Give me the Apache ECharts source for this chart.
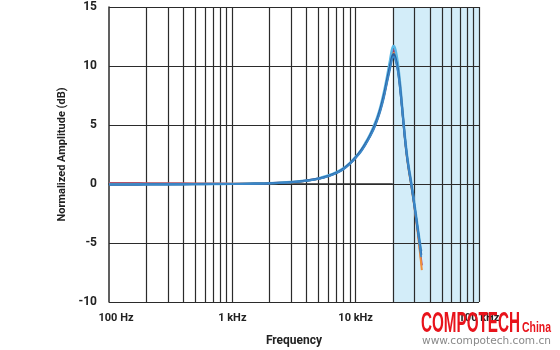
<!DOCTYPE html>
<html>
<head>
<meta charset="utf-8">
<script src="https://cdn.jsdelivr.net/npm/echarts@6/dist/echarts.min.js"></script>
<style>
  html, body { margin: 0; padding: 0; background: #fff; }
  #chart { width: 560px; height: 350px; }
</style>
</head>
<body>
<div id="chart"></div>
<script>
// Frequency points (Hz) shared by all traces
const freq = [100, 150, 200, 300, 500, 700, 1000, 1500, 2000, 3000, 4000, 5000, 6000, 7000, 8000, 9000,
  10000, 11000, 12000, 13000, 14000, 15000, 16000, 17000, 18000, 19000, 19700, 20300, 21000, 22000,
  23000, 24000, 25000, 26000, 27000, 28000, 30000, 32000, 34000, 34400];

// Normalized amplitude (dB) of each measured unit
const unitDark = [-0.05, -0.05, -0.04, -0.03, -0.02, 0, 0, 0.03, 0.06, 0.15, 0.28, 0.45, 0.68, 0.95, 1.3, 1.75,
  2.25, 2.8, 3.4, 4.05, 4.75, 5.55, 6.5, 7.6, 8.85, 10.0, 10.75, 11.0, 10.7, 9.7,
  8.0, 6.0, 4.0, 2.4, 1.2, 0.2, -1.9, -4.0, -6.0, null];
const unitMid = [-0.03, -0.03, -0.02, -0.02, -0.01, 0, 0.01, 0.04, 0.07, 0.17, 0.3, 0.48, 0.72, 1.0, 1.35, 1.8,
  2.3, 2.85, 3.5, 4.15, 4.9, 5.7, 6.7, 7.85, 9.15, 10.5, 11.4, 11.7, 11.4, 10.2,
  8.4, 6.2, 4.2, 2.6, 1.4, 0.4, -1.7, -3.8, -5.7, null];
const unitLight = [-0.04, -0.04, -0.03, -0.02, -0.01, 0, 0, 0.02, 0.05, 0.14, 0.26, 0.43, 0.65, 0.92, 1.25, 1.7,
  2.2, 2.7, 3.3, 3.95, 4.6, 5.4, 6.3, 7.35, 8.6, 9.7, 10.5, 10.8, 10.5, 9.5,
  7.9, 5.9, 4.0, 2.4, 1.2, 0.2, -1.9, -4.0, -6.2, null];
const unitOrange = [0.02, 0.02, 0.02, 0.02, 0.02, 0.02, 0.02, 0.04, 0.06, 0.15, 0.28, 0.45, 0.68, 0.95, 1.3, 1.75,
  2.25, 2.8, 3.4, 4.05, 4.75, 5.5, 6.45, 7.5, 8.75, 10.0, 10.8, 11.1, 10.8, 9.8,
  8.1, 6.0, 4.0, 2.3, 1.1, 0.1, -2.0, -4.3, -6.8, -7.3];
const unitPurple = [0.08, 0.08, 0.07, 0.06, 0.05, 0.04, 0.03, 0.04, 0.07, 0.16, 0.29, 0.46, 0.7, 0.97, 1.32, 1.77,
  2.27, 2.82, 3.42, 4.07, 4.8, 5.6, 6.55, 7.65, 8.9, 10.25, 11.05, 11.35, 11.05, 9.95,
  8.25, 6.1, 4.1, 2.5, 1.3, 0.3, -1.9, -4.1, -6.5, -6.9];

// Axis ticks and gridlines
const yTicks = [-10, -5, 0, 5, 10, 15];
const decadeLabels = { 100: '100 Hz', 1000: '1 kHz', 10000: '10 kHz', 100000: '100 kHz' };
const freqGrid = [200, 300, 400, 500, 600, 700, 800, 900, 1000, 2000, 3000, 4000, 5000, 6000, 7000, 8000, 9000,
  10000, 20000, 30000, 40000, 50000, 60000, 70000, 80000, 90000, 100000];
const bandStart = 20000, bandEnd = 100000;

const pairs = vals => freq.map((f, i) => [f, vals[i]]);
const gridColor = '#2b2b2b';
const labelFont = 'Roboto, "DejaVu Sans", sans-serif';

function trace(name, vals, color, width) {
  return {
    name, type: 'line', data: pairs(vals), smooth: 0.3, showSymbol: false, z: 5,
    lineStyle: { color, width }, connectNulls: false, silent: true
  };
}

// Stretch a text run horizontally so it spans the given width
const measureCtx = document.createElement('canvas').getContext('2d');
function fitText(text, font, x, y, width, fill) {
  measureCtx.font = font;
  const w = measureCtx.measureText(text).width;
  return {
    type: 'text', x, y, scaleX: width / w, scaleY: 1, z: 100, silent: true,
    style: { text, font, fill, verticalAlign: 'middle', align: 'left' }
  };
}

const chart = echarts.init(document.getElementById('chart'));
chart.setOption({
  animation: false,
  grid: { left: 109, right: 81, top: 7, bottom: 48, containLabel: false, outerBoundsMode: 'none' },
  xAxis: {
    type: 'log', logBase: 10, min: 100, max: 100000,
    name: 'Frequency', nameLocation: 'middle', nameGap: 33,
    nameTextStyle: { fontFamily: labelFont, fontWeight: 'bold', fontSize: 12, color: '#222' },
    axisLine: { show: true, lineStyle: { color: gridColor, width: 1.5 } },
    axisTick: { show: false },
    splitLine: { show: false },
    minorSplitLine: { show: false },
    axisLabel: {
      fontFamily: labelFont, fontWeight: 'bold', fontSize: 11, color: '#222', margin: 11,
      formatter: v => v === 100 ? '{a|100 Hz}' : (decadeLabels[v] || ''),
      rich: { a: { fontFamily: labelFont, fontWeight: 'bold', fontSize: 11, color: '#222', padding: [0, 0, 0, 14] } }
    }
  },
  yAxis: {
    type: 'value', min: -10, max: 15, interval: 5,
    name: 'Normalized Amplitude (dB)', nameLocation: 'middle', nameGap: 36, nameRotate: 90,
    nameTextStyle: { fontFamily: labelFont, fontWeight: 'bold', fontSize: 11, color: '#222' },
    axisLine: { show: true, lineStyle: { color: gridColor, width: 1.5 } },
    axisTick: { show: false },
    splitLine: { show: false },
    axisLabel: { fontFamily: labelFont, fontWeight: 'bold', fontSize: 12, color: '#222', margin: 12 }
  },
  series: [
    {
      // shaded band
      type: 'line', data: [], z: 1, silent: true,
      markArea: {
        silent: true,
        itemStyle: { color: '#d3edf9' },
        data: [[{ xAxis: bandStart }, { xAxis: bandEnd }]]
      }
    },
    {
      // gridlines
      type: 'line', data: [], z: 2, silent: true,
      markLine: {
        silent: true, symbol: 'none', label: { show: false },
        lineStyle: { color: gridColor, width: 1.2, type: 'solid' },
        data: freqGrid.map(f => ({ xAxis: f })).concat(yTicks.map(y => ({ yAxis: y })))
      }
    },
    trace('unit 5', unitPurple, '#a0407a', 2),
    trace('unit 4', unitOrange, '#f0903a', 2),
    trace('unit 2', unitMid, '#5ab8e6', 2.4),
    trace('unit 1', unitDark, '#2c5f9e', 2.2),
    trace('unit 3', unitLight, '#3b87c8', 1.8)
  ],
  graphic: [
    fitText('COMPOTECH', 'bold 29px "Liberation Sans", Arial, sans-serif', 421, 324, 99, '#e8131b'),
    fitText('China', 'bold 15px "Liberation Sans", Arial, sans-serif', 522, 328, 29, '#e8131b'),
    fitText('www.compotech.com.cn', '10px "DejaVu Sans", sans-serif', 422, 341, 129, '#888')
  ]
});
</script>
</body>
</html>
